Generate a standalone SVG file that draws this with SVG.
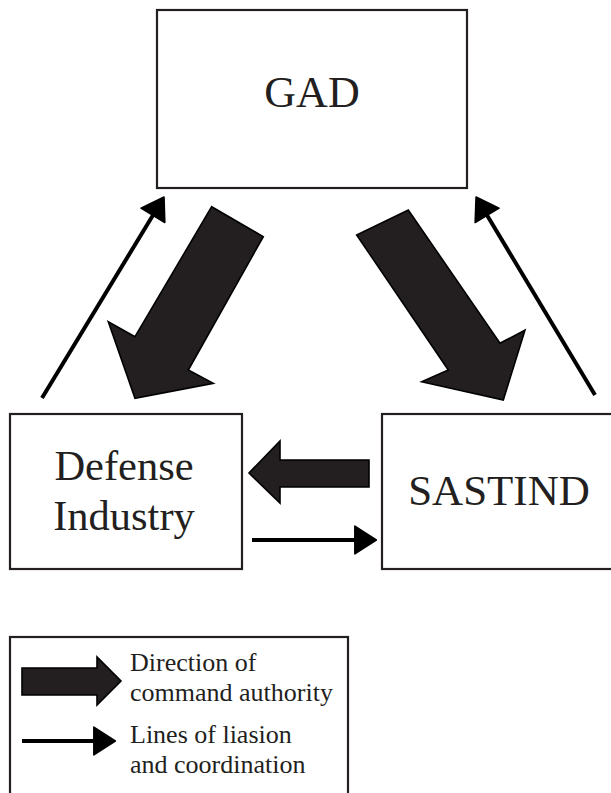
<svg xmlns="http://www.w3.org/2000/svg" width="611" height="793" viewBox="0 0 611 793">
<style>
.box{fill:#fff;stroke:#231f20;stroke-width:2.2}
.lbl{font-family:"Liberation Serif","Times New Roman",serif;fill:#231f20}
.big{fill:#231f20;stroke:#000;stroke-width:1.6;stroke-linejoin:miter}
.thin{stroke:#000;stroke-width:4;fill:none;marker-end:url(#head)}
</style>
<defs>
<marker id="head" markerUnits="userSpaceOnUse" markerWidth="30" markerHeight="30" viewBox="0 -14 24 28" refX="2" refY="0" orient="auto">
<path d="M0,-13 L20,0 L0,13 z" fill="#000" stroke="#000" stroke-width="1.5" stroke-linejoin="round"/>
</marker>
</defs>
<rect width="611" height="793" fill="#fff"/>
<g id="gad">
<rect class="box" x="157" y="10" width="310" height="178"/>
<text class="lbl" x="312" y="107" font-size="44" text-anchor="middle">GAD</text>
</g>
<g id="defense-industry">
<rect class="box" x="10" y="414" width="232" height="155"/>
<text class="lbl" x="124" y="480" font-size="42.5" text-anchor="middle">Defense</text>
<text class="lbl" x="124" y="530" font-size="42.5" text-anchor="middle">Industry</text>
</g>
<g id="sastind">
<rect class="box" x="382" y="414" width="240" height="155"/>
<text class="lbl" x="499" y="505" font-size="43" text-anchor="middle">SASTIND</text>
</g>
<g id="connectors">
<polygon class="big" points="211.7,206.7 263.3,236.7 188.3,370 213.3,383.3 135,398.3 108.3,321.7 135,336.7"/>
<polygon class="big" points="356.7,235 408.3,210 500,343.3 525,330 503.3,400 421.7,381.7 448.3,370"/>
<polygon class="big" points="369,460 369,487 280,487 280,503 249,473 280,441 280,460"/>
<line class="thin" x1="42" y1="398" x2="154" y2="213.5"/>
<line class="thin" x1="595" y1="395" x2="486" y2="213.5"/>
<line class="thin" x1="252" y1="540" x2="357" y2="540"/>
</g>
<g id="legend">
<rect class="box" x="10" y="637" width="338" height="200"/>
<polygon class="big" points="22,668 97,668 97,657 121,681 97,705 97,695 22,695"/>
<line class="thin" x1="22" y1="741" x2="96" y2="741"/>
<text class="lbl" x="130" y="671" font-size="26">Direction of</text>
<text class="lbl" x="130" y="701" font-size="26">command authority</text>
<text class="lbl" x="130" y="743" font-size="26">Lines of liasion</text>
<text class="lbl" x="130" y="773" font-size="26">and coordination</text>
</g>
</svg>
